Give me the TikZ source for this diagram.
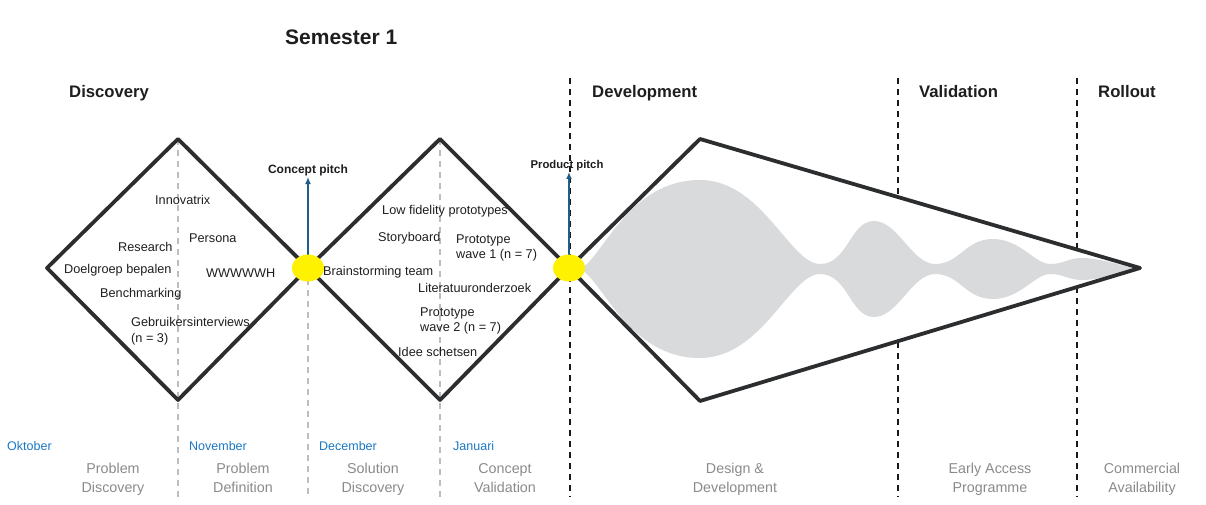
\documentclass[tikz,border=0pt]{standalone}
\usepackage{fontspec}
\setmainfont{Liberation Sans}
\usetikzlibrary{arrows.meta,shapes.geometric}
\definecolor{ink}{HTML}{1E1E1E}
\definecolor{edgec}{HTML}{2B2D2F}
\definecolor{gdash}{HTML}{BDBDBD}
\definecolor{blobc}{HTML}{D9DADB}
\definecolor{pitchblue}{HTML}{1F5F87}
\definecolor{monthc}{HTML}{1B77C5}
\definecolor{phasec}{HTML}{8A8A8A}
\definecolor{dotyellow}{HTML}{FFF200}
\begin{document}
\begin{tikzpicture}[x=1pt,y=-1pt,
  diamondline/.style={draw=edgec, line width=3.8, line join=round},
  greydash/.style={draw=gdash, line width=1.6, dash pattern=on 6 off 5},
  blackdash/.style={draw=black!90, line width=2.4, dash pattern=on 6 off 5},
  lbl/.style={font=\fontsize{12.7}{15}\selectfont, text=ink, anchor=base west, inner sep=0},
  head/.style={font=\fontsize{16.7}{20}\selectfont\bfseries, text=ink, anchor=base west, inner sep=0},
  monthlbl/.style={font=\fontsize{12.5}{15}\selectfont, text=monthc, anchor=base west, inner sep=0},
  phase/.style={font=\fontsize{14.3}{19}\selectfont, text=phasec, align=center, inner sep=0},
  pitch/.style={font=\bfseries, text=ink, inner sep=0, anchor=base},
  arrowline/.style={draw=pitchblue, line width=1.8, -{Latex[length=7,width=6]}},
  ydot/.style={ellipse, fill=dotyellow, minimum width=32, minimum height=27, inner sep=0}
]
\useasboundingbox (0,0) rectangle (1206,505);

% key points
\coordinate (L1) at (47,268);
\coordinate (T1) at (178,139);
\coordinate (B1) at (178,400);
\coordinate (C1) at (308,268);
\coordinate (T2) at (440,139);
\coordinate (B2) at (440,400);
\coordinate (C2) at (569,268);
\coordinate (T3) at (700,139);
\coordinate (B3) at (700,401);
\coordinate (K) at (1140,268);

% grey dashed guides
\coordinate (g1) at (178,497);
\coordinate (g2) at (308,497);
\coordinate (g3) at (440,497);
\draw[greydash] (T1) -- (g1);
\draw[greydash] (C1) -- (g2);
\draw[greydash] (T2) -- (g3);

% black dashed phase separators
\coordinate (d1a) at (570,78);  \coordinate (d1b) at (570,497);
\coordinate (d2a) at (898,78);  \coordinate (d2b) at (898,497);
\coordinate (d3a) at (1077,78); \coordinate (d3b) at (1077,497);
\draw[blackdash] (d1a) -- (d1b);
\draw[blackdash] (d2a) -- (d2b);
\draw[blackdash] (d3a) -- (d3b);

% kite fill
\fill[white] (C2) -- (T3) -- (K) -- (B3) -- cycle;

% grey blob
\fill[blobc] (580,269) .. controls (603,258) and (628,180) .. (700,180)
  .. controls (762,180) and (790,264) .. (820,264)
  .. controls (848,264) and (850,221) .. (874,221)
  .. controls (898,221) and (912,264) .. (935,264)
  .. controls (960,264) and (965,239) .. (993,239)
  .. controls (1020,239) and (1035,264) .. (1050,264)
  .. controls (1064,264) and (1068,258) .. (1082,258)
  .. controls (1100,258) and (1122,266) .. (1138,269)
  .. controls (1122,272) and (1100,280) .. (1082,280)
  .. controls (1068,280) and (1064,274) .. (1050,274)
  .. controls (1035,274) and (1020,299) .. (993,299)
  .. controls (965,299) and (960,274) .. (935,274)
  .. controls (912,274) and (898,317) .. (874,317)
  .. controls (850,317) and (848,274) .. (820,274)
  .. controls (790,274) and (762,358) .. (700,358)
  .. controls (628,358) and (603,280) .. (580,269) -- cycle;

% outlines
\draw[diamondline] (L1) -- (T1) -- (C1) -- (B1) -- cycle;
\draw[diamondline] (C1) -- (T2) -- (C2) -- (B2) -- cycle;
\draw[diamondline] (C2) -- (T3) -- (K) -- (B3) -- cycle;

% pitches
\node[pitch, font=\fontsize{12}{14}\selectfont\bfseries] (cp) at (308,174) {Concept pitch};
\node[pitch, font=\fontsize{11.3}{14}\selectfont\bfseries] (pp) at (567,169) {Product pitch};
\coordinate (a1) at (308,177);
\coordinate (a2) at (569,172);
\draw[arrowline] (C1) -- (a1);
\draw[arrowline] (C2) -- (a2);

% yellow dots
\node[ydot] (dot1) at (C1) {};
\node[ydot] (dot2) at (C2) {};

% title and headers
\node[head, font=\fontsize{21}{24}\selectfont\bfseries] (sem) at (285,44.5) {Semester 1};
\node[head] (h1) at (69,98) {Discovery};
\node[head] (h2) at (592,98) {Development};
\node[head] (h3) at (919,98) {Validation};
\node[head] (h4) at (1098,98) {Rollout};

% left diamond labels
\node[lbl] (t1) at (155,204.5) {Innovatrix};
\node[lbl] (t2) at (189,242.5) {Persona};
\node[lbl] (t3) at (118,251.5) {Research};
\node[lbl] (t4) at (64,273.5) {Doelgroep bepalen};
\node[lbl] (t5) at (206,277.5) {WWWWWH};
\node[lbl] (t6) at (100,297.5) {Benchmarking};
\node[lbl] (t7) at (131,326.5) {Gebruikersinterviews};
\node[lbl] (t8) at (131,342.5) {(n = 3)};

% middle diamond labels
\node[lbl] (m1) at (382,214.5) {Low fidelity prototypes};
\node[lbl] (m2) at (378,241.5) {Storyboard};
\node[lbl] (m3) at (456,243.5) {Prototype};
\node[lbl] (m4) at (456,258.5) {wave 1 (n = 7)};
\node[lbl] (m5) at (323,275.5) {Brainstorming team};
\node[lbl] (m6) at (418,292.5) {Literatuuronderzoek};
\node[lbl] (m7) at (420,316.5) {Prototype};
\node[lbl] (m8) at (420,331.5) {wave 2 (n = 7)};
\node[lbl] (m9) at (398,356.5) {Idee schetsen};

% months
\node[monthlbl] (mo1) at (7,450.5) {Oktober};
\node[monthlbl] (mo2) at (189,450.5) {November};
\node[monthlbl] (mo3) at (319,450.5) {December};
\node[monthlbl] (mo4) at (453,450.5) {Januari};

% phase labels
\node[phase] (p1) at (113,478.7) {\strut Problem\\\strut Discovery};
\node[phase] (p2) at (243,478.7) {\strut Problem\\\strut Definition};
\node[phase] (p3) at (373,478.7) {\strut Solution\\\strut Discovery};
\node[phase] (p4) at (505,478.7) {\strut Concept\\\strut Validation};
\node[phase] (p5) at (735,478.7) {\strut Design \&\\\strut Development};
\node[phase] (p6) at (990,478.7) {\strut Early Access\\\strut Programme};
\node[phase] (p7) at (1142,478.7) {\strut Commercial\\\strut Availability};
\end{tikzpicture}
\end{document}
